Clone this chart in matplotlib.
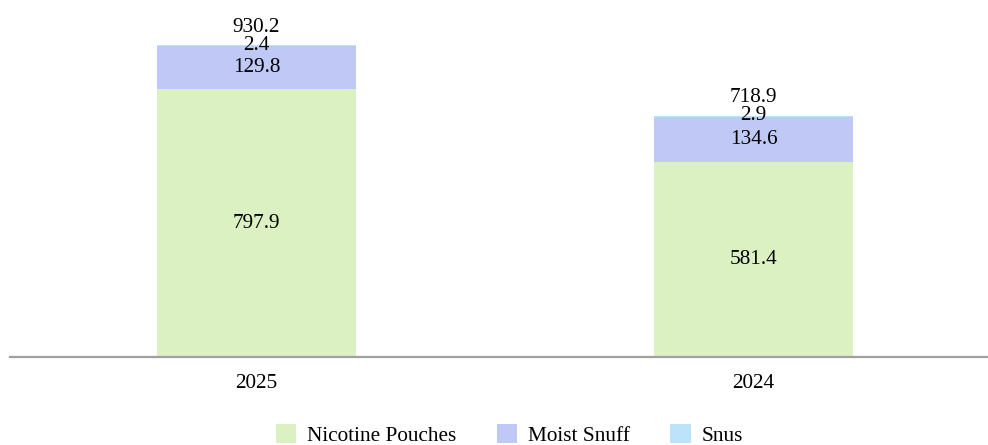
import matplotlib
matplotlib.use("Agg")
import matplotlib.pyplot as plt
import numpy as np

plt.rcParams['font.family'] = ['Liberation Serif', 'DejaVu Serif']

years = ["2025", "2024"]
nicotine_pouches = [797.9, 581.4]
moist_snuff = [129.8, 134.6]
snus = [2.4, 2.9]
totals = [930.2, 718.9]

colors = {"Nicotine Pouches": "#dcf1c2", "Moist Snuff": "#c0c8f5", "Snus": "#bde3fb"}

fig = plt.figure(figsize=(9.88, 4.45), dpi=100)
ax = fig.add_axes([10 / 988, 88 / 445, 978 / 988, 347 / 445])

x = np.arange(len(years))
w = 0.4
b1 = ax.bar(x, nicotine_pouches, w, color=colors["Nicotine Pouches"], label="Nicotine Pouches")
bottom2 = np.array(nicotine_pouches)
b2 = ax.bar(x, moist_snuff, w, bottom=bottom2, color=colors["Moist Snuff"], label="Moist Snuff")
bottom3 = bottom2 + np.array(moist_snuff)
b3 = ax.bar(x, snus, w, bottom=bottom3, color=colors["Snus"], label="Snus")

fs = 15.3
for i in range(len(years)):
    ax.text(x[i], nicotine_pouches[i] / 2, f"{nicotine_pouches[i]:.1f}", ha="center", va="center", fontsize=fs)
    ax.text(x[i], bottom2[i] + moist_snuff[i] / 2, f"{moist_snuff[i]:.1f}", ha="center", va="center", fontsize=fs)
    top = bottom3[i] + snus[i]
    ax.text(x[i], top, f"{snus[i]:.1f}", ha="center", va="center", fontsize=fs)
    ax.annotate(f"{totals[i]:.1f}", (x[i], top), xytext=(0, 13), textcoords="offset points",
                ha="center", va="center", fontsize=fs)

ax.set_xlim(-0.496, 1.472)
ax.set_ylim(0, 1035)
for s in ["top", "right", "left"]:
    ax.spines[s].set_visible(False)
ax.spines["bottom"].set_color("#a0a0a0")
ax.spines["bottom"].set_linewidth(1.6)
ax.set_yticks([])
ax.set_xticks(x)
ax.set_xticklabels(years, fontsize=fs)
ax.tick_params(axis="x", length=0, pad=12)

fig.legend(handles=[b1, b2, b3], loc="center", bbox_to_anchor=(509.5 / 988, 10 / 445), ncol=3,
           frameon=False, fontsize=fs, handlelength=0.95, handleheight=1.0, columnspacing=1.9,
           handletextpad=0.52, borderpad=0)

fig.savefig("out.png", dpi=100)
